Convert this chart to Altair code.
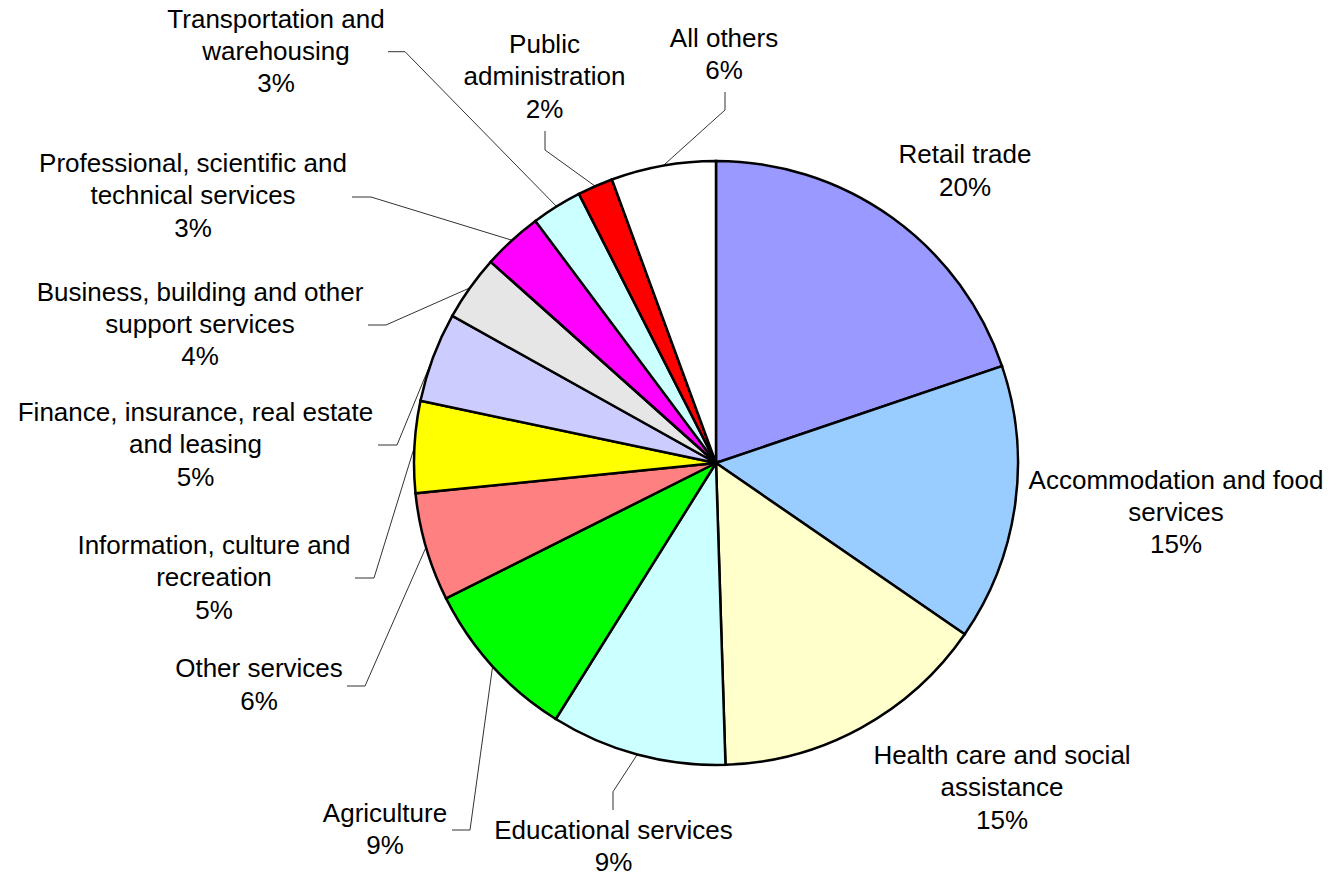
import math
import altair as alt
import pandas as pd

# ---- data (clockwise from 12 o'clock) ----
categories = [
    "Retail trade",
    "Accommodation and food\nservices",
    "Health care and social\nassistance",
    "Educational services",
    "Agriculture",
    "Other services",
    "Information, culture and\nrecreation",
    "Finance, insurance, real estate\nand leasing",
    "Business, building and other\nsupport services",
    "Professional, scientific and\ntechnical services",
    "Transportation and\nwarehousing",
    "Public\nadministration",
    "All others",
]
shares = [19.8, 14.8, 14.9, 9.4, 8.7, 5.8, 4.9, 4.8, 3.5, 3.2, 2.7, 1.9, 5.6]
pct_labels = ["20%", "15%", "15%", "9%", "9%", "6%", "5%", "5%", "4%", "3%", "3%", "2%", "6%"]
colors = ["#9999FF", "#99CCFF", "#FFFFCC", "#CCFFFF", "#00FF00", "#FF8080", "#FFFF00",
          "#CCCCFF", "#E6E6E6", "#FF00FF", "#CCFFFF", "#FF0000", "#FFFFFF"]

# ---- layout (pixel units of the 1342 x 874 canvas) ----
W, H = 1342, 874
CX, CY, R = 716, 463, 302
LINE_H = 32.3
# centre of each label block
label_pos = [
    (965, 171.5), (1176, 513), (1002, 788.5), (613.5, 847), (385, 830), (259, 685.5),
    (214, 578.5), (195.5, 445.5), (200, 325), (193, 196.5), (276, 52), (544.5, 77.5), (724, 55),
]
# leader line: (start, elbow) per slice; the third point is on the pie rim
leader = [
    None, None, None,
    ((613, 810), (613, 791.7)),
    ((452, 830), (470, 830)),
    ((347, 686), (365, 686)),
    ((355, 578), (374, 578)),
    ((378, 445), (397, 445)),
    ((368, 325), (386, 325)),
    ((352, 197), (371, 197)),
    ((388, 51.7), (405, 51.7)),
    ((545, 131), (545, 150)),
    ((725, 92), (725, 110)),
]

total = sum(shares)
rows, lrows, trows = [], [], []
cum = 0.0
for i, (c, v) in enumerate(zip(categories, shares)):
    rows.append({"cat": c, "value": v, "idx": i})
    mid = (cum + v / 2) / total * 2 * math.pi
    cum += v
    txt = c + "\n" + pct_labels[i]
    n = txt.count("\n") + 1
    trows.append({"cat": c, "text": txt,
                  "x": label_pos[i][0],
                  "y": label_pos[i][1] - (n - 1) * LINE_H / 2})
    if leader[i] is not None:
        (sx, sy), (ex, ey) = leader[i]
        rx, ry = CX + R * math.sin(mid), CY - R * math.cos(mid)
        for k, (px, py) in enumerate([(sx, sy), (ex, ey), (rx, ry)]):
            lrows.append({"cat": c, "k": k, "x": px, "y": py})

df = pd.DataFrame(rows)
tdf = pd.DataFrame(trows)
ldf = pd.DataFrame(lrows)

xs = alt.Scale(domain=[0, W], nice=False, zero=False)
ys = alt.Scale(domain=[0, H], nice=False, zero=False, reverse=True)

pie = alt.Chart(df).mark_arc(stroke="black", strokeWidth=2.5, radius=R).encode(
    theta=alt.Theta("value:Q", stack=True),
    order=alt.Order("idx:Q"),
    color=alt.Color("cat:N", scale=alt.Scale(domain=categories, range=colors), legend=None),
    x=alt.XDatum(CX, type="quantitative", scale=xs, axis=None),
    y=alt.YDatum(CY, type="quantitative", scale=ys, axis=None),
)

lines = alt.Chart(ldf).mark_line(color="#333333", strokeWidth=1).encode(
    x=alt.X("x:Q", scale=xs, axis=None),
    y=alt.Y("y:Q", scale=ys, axis=None),
    detail="cat:N",
    order="k:Q",
)

texts = alt.Chart(tdf).mark_text(
    align="center", baseline="middle", fontSize=26, font="Liberation Sans",
    lineHeight=LINE_H, lineBreak="\n", color="black",
).encode(
    x=alt.X("x:Q", scale=xs, axis=None),
    y=alt.Y("y:Q", scale=ys, axis=None),
    text="text:N",
)

chart = alt.layer(lines, pie, texts).properties(
    width=W, height=H, padding=0, autosize="none", background="white"
).configure_view(stroke=None)

chart.save("out.html", embed_options={"renderer": "svg", "actions": False})
